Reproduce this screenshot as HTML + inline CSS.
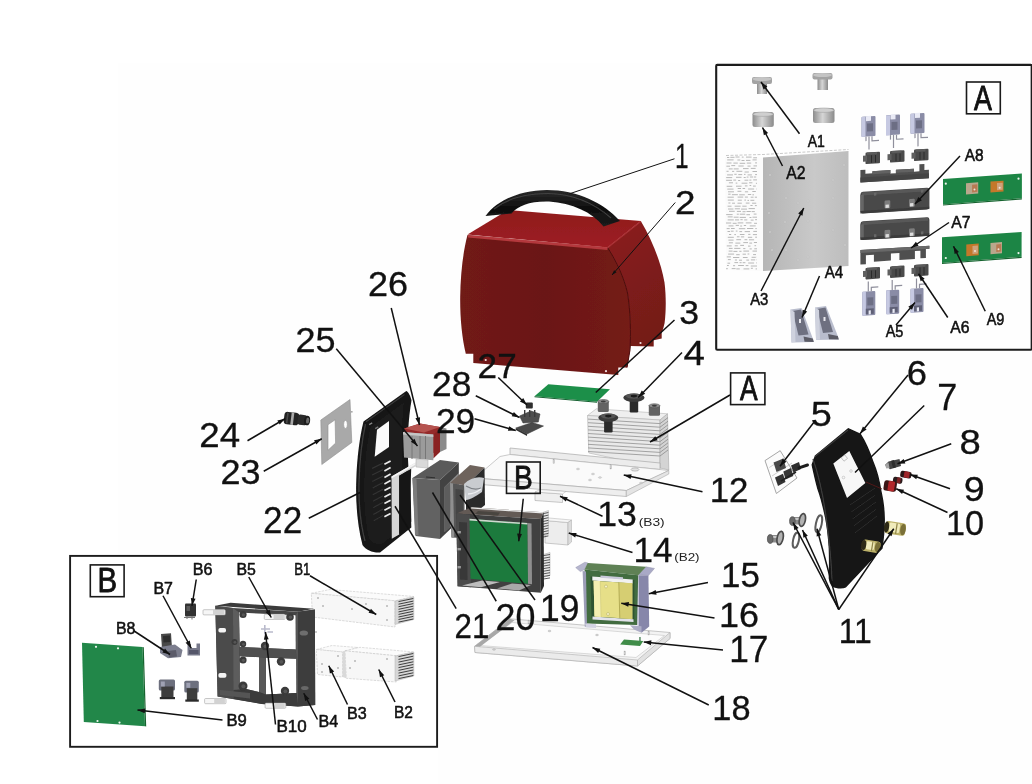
<!DOCTYPE html>
<html><head><meta charset="utf-8"><title>Exploded parts diagram</title>
<style>
html,body{margin:0;padding:0;background:#fff;}
body{width:1032px;height:784px;overflow:hidden;font-family:"Liberation Sans",sans-serif;}
svg{display:block;font-family:"Liberation Sans",sans-serif;}
</style></head><body>
<svg width="1032" height="784" viewBox="0 0 1032 784">
<g id="p_bg">
<defs>
<filter id="soft" x="-5%" y="-5%" width="110%" height="110%"><feGaussianBlur stdDeviation="0.45"/></filter>
<filter id="soft2" x="-5%" y="-5%" width="110%" height="110%"><feGaussianBlur stdDeviation="0.8"/></filter>
</defs>
<rect x="0" y="0" width="1032" height="784" fill="#ffffff"/>
<path d="M118,63 H1032 V784 H438 V555 H118 Z" fill="#fefefe"/>
</g>
<g id="p_cover">
<defs>
<linearGradient id="gFront" x1="0" y1="0" x2="1" y2="0"><stop offset="0" stop-color="#701a17"/><stop offset="0.5" stop-color="#6b1714"/><stop offset="1" stop-color="#741b18"/></linearGradient>
<linearGradient id="gSide" x1="0" y1="0" x2="0.25" y2="1"><stop offset="0" stop-color="#8c1e1e"/><stop offset="0.55" stop-color="#7c1b1a"/><stop offset="1" stop-color="#731a18"/></linearGradient>
<linearGradient id="gTop" x1="0" y1="0" x2="0" y2="1"><stop offset="0" stop-color="#8f1a1d"/><stop offset="1" stop-color="#9d1e22"/></linearGradient>
<linearGradient id="gHandle" x1="0" y1="0" x2="0" y2="1"><stop offset="0" stop-color="#2a2a2a"/><stop offset="0.5" stop-color="#0e0e0e"/><stop offset="1" stop-color="#1c1c1c"/></linearGradient>
</defs>
<g filter="url(#soft)">
<path d="M607.5,247.5 L640.8,221 C652,240 661,262 664.5,282.5 C666.3,297 666,312 664.6,323 L663.5,327.5 L661.7,333.3 L661.7,338.5 L653.7,340.2 L653.7,346.5 L630.5,346 L627,368 Z" fill="url(#gSide)"/>
<path d="M467.5,235 L607.5,247.5 C617,262 624,278 627.5,293 C630.5,312 631,333 630,350 L627,367.5 L618.3,367.5 L618.3,375 L473.3,363 L473.3,353.8 L465.8,353.8 C462,338 460,318 460.2,297 C460.5,274 463,252 467.5,235 Z" fill="url(#gFront)"/>
<path d="M607.5,247.5 C617,262 624,278 627.5,293 C630.5,312 631,333 630,350 L627,367.5" fill="none" stroke="#4e100e" stroke-width="1"/>
<polygon points="467.5,234.5 508,210 640.8,221 607.5,247.5" fill="url(#gTop)"/>
<path d="M468,236.2 L607.5,248.6" stroke="#bb3d41" stroke-width="2.6" fill="none" opacity="0.9"/>
<path d="M607.5,247.8 L640.8,221.5" stroke="#a93034" stroke-width="1.2" fill="none"/>
<circle cx="485.7" cy="360.0" r="1.1" fill="#f2dede"/>
<circle cx="606.0" cy="371.2" r="1.1" fill="#f2dede"/>
<circle cx="640.5" cy="343.0" r="1.1" fill="#f2dede"/>
<path d="M485.5,216 C497,200 520,190.5 547,190 C577,190 604,203 620,221 L603.5,226.5 C592,212 572,203 549,201.5 C530,201 518,205.5 511.5,213.5 Z" fill="url(#gHandle)"/>
<path d="M494,209 C508,198 527,193.5 548,193.5 C572,194 594,203 611,218" stroke="#4a4a4a" stroke-width="1.2" fill="none" opacity="0.8"/>
<polygon points="548.3,384.3 610,389.3 597,401.8 534.5,396.3" fill="#1f8f49"/>
<polygon points="534.5,396.3 597,401.8 597,402.8 534.5,397.3" fill="#14602f"/>
</g>
</g>
<g id="p_mid">
<g filter="url(#soft)">
<polygon points="587.50,415.50 596.30,408.80 667.50,413.80 660.00,420.00" fill="#efefef" stroke="#b5b5b5" stroke-width="0.6" stroke-linejoin="round" />
<polygon points="587.50,415.50 660.00,420.00 660.00,468.00 588.80,453.00" fill="#e9e9e9" stroke="#b0b0b0" stroke-width="0.6" stroke-linejoin="round" />
<polygon points="660.00,420.00 667.50,413.80 668.80,470.00 660.00,468.00" fill="#d4d4d4" stroke="#a8a8a8" stroke-width="0.6" stroke-linejoin="round" />
<line x1="588" y1="419.10" x2="660" y2="423.60" stroke="#9a9a9a" stroke-width="0.9"/>
<line x1="660" y1="423.60" x2="668" y2="417.60" stroke="#8c8c8c" stroke-width="0.8"/>
<line x1="588" y1="422.70" x2="660" y2="427.20" stroke="#9a9a9a" stroke-width="0.9"/>
<line x1="660" y1="427.20" x2="668" y2="421.20" stroke="#8c8c8c" stroke-width="0.8"/>
<line x1="588" y1="426.30" x2="660" y2="430.80" stroke="#9a9a9a" stroke-width="0.9"/>
<line x1="660" y1="430.80" x2="668" y2="424.80" stroke="#8c8c8c" stroke-width="0.8"/>
<line x1="588" y1="429.90" x2="660" y2="434.40" stroke="#9a9a9a" stroke-width="0.9"/>
<line x1="660" y1="434.40" x2="668" y2="428.40" stroke="#8c8c8c" stroke-width="0.8"/>
<line x1="588" y1="433.50" x2="660" y2="438.00" stroke="#9a9a9a" stroke-width="0.9"/>
<line x1="660" y1="438.00" x2="668" y2="432.00" stroke="#8c8c8c" stroke-width="0.8"/>
<line x1="588" y1="437.10" x2="660" y2="441.60" stroke="#9a9a9a" stroke-width="0.9"/>
<line x1="660" y1="441.60" x2="668" y2="435.60" stroke="#8c8c8c" stroke-width="0.8"/>
<line x1="588" y1="440.70" x2="660" y2="445.20" stroke="#9a9a9a" stroke-width="0.9"/>
<line x1="660" y1="445.20" x2="668" y2="439.20" stroke="#8c8c8c" stroke-width="0.8"/>
<line x1="588" y1="444.30" x2="660" y2="448.80" stroke="#9a9a9a" stroke-width="0.9"/>
<line x1="660" y1="448.80" x2="668" y2="442.80" stroke="#8c8c8c" stroke-width="0.8"/>
<line x1="588" y1="447.90" x2="660" y2="452.40" stroke="#9a9a9a" stroke-width="0.9"/>
<line x1="660" y1="452.40" x2="668" y2="446.40" stroke="#8c8c8c" stroke-width="0.8"/>
<line x1="588" y1="451.50" x2="660" y2="456.00" stroke="#9a9a9a" stroke-width="0.9"/>
<line x1="660" y1="456.00" x2="668" y2="450.00" stroke="#8c8c8c" stroke-width="0.8"/>
<rect x="597.8" y="401.0" width="11.0" height="10.9" rx="1.5" fill="#636363"/>
<ellipse cx="603.3" cy="401.5" rx="5.5" ry="2" fill="#8d8d8d" stroke="#4d4d4d" stroke-width="0.6"/>
<ellipse cx="603.3" cy="401.5" rx="2.5" ry="1" fill="#3d3d3d"/>
<rect x="648.8" y="405.3" width="11.2" height="10.5" rx="1.5" fill="#636363"/>
<ellipse cx="654.4" cy="405.8" rx="5.6" ry="2" fill="#8d8d8d" stroke="#4d4d4d" stroke-width="0.6"/>
<ellipse cx="654.4" cy="405.8" rx="2.5" ry="1" fill="#3d3d3d"/>
<rect x="629.7" y="399.5" width="8.5" height="13.0" rx="1.2" fill="#2b2b2b"/>
<ellipse cx="633.9" cy="397.7" rx="10.6" ry="4.2" fill="#3a3a3a"/>
<ellipse cx="633.9" cy="396.1" rx="8.1" ry="2.6" fill="#555"/>
<ellipse cx="633.9" cy="396.1" rx="3.2" ry="1.3" fill="#1a1a1a"/>
<rect x="604.1" y="419.5" width="8.5" height="13.0" rx="1.2" fill="#2b2b2b"/>
<ellipse cx="608.3" cy="417.7" rx="10.0" ry="4.2" fill="#3a3a3a"/>
<ellipse cx="608.3" cy="416.1" rx="7.5" ry="2.6" fill="#555"/>
<ellipse cx="608.3" cy="416.1" rx="3.2" ry="1.3" fill="#1a1a1a"/>
<polygon points="510.00,448.00 660.00,463.00 660.00,469.50 510.00,454.50" fill="#ececec" stroke="#a9a9a9" stroke-width="0.7" stroke-linejoin="round" />
<polygon points="500.00,456.50 510.00,454.50 660.00,469.50 668.80,470.50 626.30,490.50 475.00,478.00" fill="#fafafa" stroke="#b4b4b4" stroke-width="0.7" stroke-linejoin="round" />
<polygon points="475.00,478.00 626.30,490.50 626.30,496.50 475.00,484.00" fill="#eeeeee" stroke="#aaaaaa" stroke-width="0.7" stroke-linejoin="round" />
<polygon points="626.30,490.50 668.80,470.50 668.80,474.00 626.30,496.50" fill="#e4e4e4" stroke="#aaaaaa" stroke-width="0.6" stroke-linejoin="round" />
<ellipse cx="635" cy="469.5" rx="4" ry="1.6" fill="#e2e2e2" stroke="#9d9d9d" stroke-width="0.6"/>
<ellipse cx="578.0" cy="469.0" rx="1.6" ry="0.8" fill="#ddd" stroke="#aaa" stroke-width="0.4"/>
<ellipse cx="593.0" cy="474.0" rx="1.6" ry="0.8" fill="#ddd" stroke="#aaa" stroke-width="0.4"/>
<ellipse cx="600.0" cy="477.5" rx="1.6" ry="0.8" fill="#ddd" stroke="#aaa" stroke-width="0.4"/>
<ellipse cx="590.0" cy="480.0" rx="1.6" ry="0.8" fill="#ddd" stroke="#aaa" stroke-width="0.4"/>
<ellipse cx="641.0" cy="483.0" rx="1.6" ry="0.8" fill="#ddd" stroke="#aaa" stroke-width="0.4"/>
<rect x="553.0" y="459.0" width="1.6" height="4.5" fill="#cfcfcf" stroke="#aaa" stroke-width="0.3"/>
<rect x="610.0" y="464.5" width="1.6" height="4.5" fill="#cfcfcf" stroke="#aaa" stroke-width="0.3"/>
<polygon points="535.00,492.00 562.50,494.00 562.50,502.50 535.00,500.50" fill="#efefef" stroke="#a5a5a5" stroke-width="0.6" stroke-linejoin="round" />
<polygon points="535.00,492.00 540.00,489.50 566.00,491.50 562.50,494.00" fill="#f7f7f7" stroke="#b0b0b0" stroke-width="0.5" stroke-linejoin="round" />
<polygon points="545.00,520.50 568.00,522.50 568.00,545.00 545.00,543.00" fill="#ededed" stroke="#a8a8a8" stroke-width="0.6" stroke-linejoin="round" />
<polygon points="545.00,520.50 549.00,518.00 571.50,520.00 568.00,522.50" fill="#f6f6f6" stroke="#b0b0b0" stroke-width="0.5" stroke-linejoin="round" />
<polygon points="568.00,522.50 571.50,520.00 571.50,542.00 568.00,545.00" fill="#dcdcdc" stroke="#a8a8a8" stroke-width="0.5" stroke-linejoin="round" />
<rect x="525.8" y="402.5" width="7" height="6" rx="1" fill="#2e2e2e"/>
<polygon points="519.50,416.00 531.00,411.00 540.00,414.00 538.30,422.00 523.00,423.00" fill="#505050" stroke="#333" stroke-width="0.5" stroke-linejoin="round" />
<rect x="524.0" y="410" width="1.4" height="7" fill="#3a3a3a"/>
<rect x="529.0" y="410" width="1.4" height="7" fill="#3a3a3a"/>
<rect x="534.0" y="410" width="1.4" height="7" fill="#3a3a3a"/>
<polygon points="515.80,428.00 532.00,422.50 543.50,426.00 527.00,434.00" fill="#4a4a4a" stroke="#2c2c2c" stroke-width="0.5" stroke-linejoin="round" />
<polygon points="515.80,428.00 527.00,434.00 527.00,436.00 515.80,430.00" fill="#333" />
</g>
</g>
<g id="p_left">
<g filter="url(#soft)">
<g transform="rotate(7 297 419)">
<rect x="284" y="413" width="15" height="12.5" rx="3.5" fill="#242424"/>
<rect x="291" y="413" width="2.6" height="12.5" fill="#a9a9a9"/>
<rect x="286.5" y="414" width="1.5" height="10.5" fill="#4a4a4a"/>
<rect x="298" y="414.2" width="9" height="10.2" rx="2" fill="#2b2b2b"/>
<ellipse cx="307.2" cy="419.3" rx="3" ry="4.8" fill="#1b1b1b"/>
<ellipse cx="307.8" cy="419.3" rx="1.6" ry="3" fill="#6a6a6a"/>
</g>
<path fill-rule="evenodd" d="M320.8,420 L350,399.5 L351.8,442.5 L321.8,464.5 Z M328,424.7 L335.1,419.8 L335.6,443.1 L328,450.2 Z M343.6,424.4 a1.9,4 0 1,0 3.8,0 a1.9,4 0 1,0 -3.8,0 Z" fill="#a9a9a9" stroke="#8e8e8e" stroke-width="0.6"/>
<rect x="350" y="411" width="2.6" height="1.6" fill="#aaa"/>
<path d="M406.3,391 C408.5,392 410.5,396 411.5,400.5 C408,420 407,445 408.5,470 C409.5,492 411,510 411.3,527.5 L380,552.5 C373,553 366,550 362.5,545 C357,524 355.5,500 356.3,480 C357,458 359.5,438 363.5,421.5 Z" fill="#141414"/>
<path d="M365.5,424 C361.5,442 359.5,462 359,482 C358.5,503 360.5,524 365,541" stroke="#3c3c3c" stroke-width="1.4" fill="none"/>
<path d="M366,421.8 L404.5,394.5" stroke="#3a3a3a" stroke-width="1.2" fill="none"/>
<path d="M370.5,427 L404,402.5 C401.5,425 401.5,450 403,474 C404,494 405.5,510 406,524 L381.5,544.5 C373.5,545 369.5,541 368,535 C364,514 363.5,492 364.5,474 C365.3,456 367.5,440 370.5,427 Z" fill="#1d1d1d"/>
<polygon points="377.00,429.80 389.00,421.10 389.00,447.00 374.70,456.70" fill="#fbfbfb" />
<rect x="369" y="423.5" width="3.5" height="1.3" fill="#888" transform="rotate(-30 370 424)"/>
<rect x="375" y="427.5" width="3.5" height="1.3" fill="#777" transform="rotate(-30 376 428)"/>
<line x1="384.4" y1="464.3" x2="390.6" y2="461.0" stroke="#ececec" stroke-width="1.7"/>
<line x1="384.4" y1="470.9" x2="390.6" y2="467.6" stroke="#ececec" stroke-width="1.7"/>
<line x1="384.4" y1="477.4" x2="390.6" y2="474.1" stroke="#ececec" stroke-width="1.7"/>
<line x1="384.4" y1="483.9" x2="390.6" y2="480.6" stroke="#ececec" stroke-width="1.7"/>
<line x1="384.4" y1="490.5" x2="390.6" y2="487.2" stroke="#ececec" stroke-width="1.7"/>
<line x1="384.4" y1="497.1" x2="390.6" y2="493.8" stroke="#ececec" stroke-width="1.7"/>
<line x1="384.4" y1="503.6" x2="390.6" y2="500.3" stroke="#ececec" stroke-width="1.7"/>
<line x1="384.4" y1="510.2" x2="390.6" y2="506.9" stroke="#ececec" stroke-width="1.7"/>
<line x1="384.4" y1="516.7" x2="390.6" y2="513.4" stroke="#ececec" stroke-width="1.7"/>
<line x1="372.0" y1="468.5" x2="383.0" y2="463.0" stroke="#333" stroke-width="1.1"/>
<line x1="372.2" y1="475.1" x2="383.0" y2="469.6" stroke="#333" stroke-width="1.1"/>
<line x1="372.4" y1="481.6" x2="383.0" y2="476.1" stroke="#333" stroke-width="1.1"/>
<line x1="372.6" y1="488.1" x2="383.0" y2="482.6" stroke="#333" stroke-width="1.1"/>
<line x1="372.8" y1="494.7" x2="383.0" y2="489.2" stroke="#333" stroke-width="1.1"/>
<line x1="373.0" y1="501.2" x2="383.0" y2="495.8" stroke="#333" stroke-width="1.1"/>
<line x1="373.2" y1="507.8" x2="383.0" y2="502.3" stroke="#333" stroke-width="1.1"/>
<line x1="373.4" y1="514.4" x2="383.0" y2="508.9" stroke="#333" stroke-width="1.1"/>
<line x1="373.6" y1="520.9" x2="383.0" y2="515.4" stroke="#333" stroke-width="1.1"/>
<polygon points="391.50,476.40 415.70,462.40 415.70,466.20 399.20,475.80 399.20,534.50 391.80,538.80" fill="#d6d6d6" />
<polygon points="391.50,476.40 415.70,462.40 415.70,464.40 391.50,478.60" fill="#f4f4f4" />
<path d="M399.2,475.8 L411.2,468.8 C410.4,485 411,505 411.3,521.5 L399.2,534.5 Z" fill="#171717"/>
<polygon points="404.00,428.50 420.00,423.50 440.00,427.00 440.00,449.00 433.50,453.00 404.00,447.00" fill="#952a2a" />
<polygon points="404.00,428.50 420.00,423.50 440.00,427.00 424.00,432.50" fill="#b5524f" />
<polygon points="440.00,427.00 446.50,428.50 446.50,449.00 440.00,452.00" fill="#8a8a8a" />
<polygon points="433.30,434.00 440.00,430.00 440.00,452.00 433.30,458.50" fill="#8a2424" />
<polygon points="403.00,432.00 433.30,434.50 433.30,460.30 404.00,457.50" fill="#9b9b9b" />
<polygon points="403.00,432.00 433.30,434.50 433.30,437.00 403.00,434.50" fill="#c4c4c4" />
<line x1="412.0" y1="436" x2="412.0" y2="459" stroke="#777" stroke-width="1"/>
<line x1="420.0" y1="436" x2="420.0" y2="459" stroke="#777" stroke-width="1"/>
<line x1="425.5" y1="436" x2="425.5" y2="459" stroke="#777" stroke-width="1"/>
<polygon points="416.00,459.00 428.00,460.00 428.00,468.00 416.00,467.00" fill="#d9d9d9" stroke="#aaa" stroke-width="0.5" stroke-linejoin="round" />
<polygon points="412.50,478.00 440.00,460.00 458.80,462.50 440.00,480.00" fill="#5a5a5a" />
<polygon points="440.00,480.00 458.80,462.50 458.80,521.00 440.00,539.00" fill="#434343" />
<polygon points="444.50,487.00 458.80,473.00 458.80,519.00 444.50,532.00" fill="#8d8d8d" />
<polygon points="444.50,487.00 450.00,482.00 450.00,527.00 444.50,532.00" fill="#5d5d5d" />
<polygon points="412.50,478.00 440.00,480.00 440.00,539.00 415.50,536.00" fill="#626262" />
<polygon points="412.50,478.00 416.50,478.30 418.50,535.30 415.00,535.00" fill="#7b7b7b" />
<line x1="426" y1="477" x2="435" y2="477.8" stroke="#2f2f2f" stroke-width="1"/>
<polygon points="450.00,483.00 470.00,465.00 484.50,467.50 466.00,485.50" fill="#6e635c" />
<polygon points="450.00,483.00 464.50,485.30 464.50,538.00 451.50,537.50" fill="#565656" />
<polygon points="450.00,483.00 453.00,483.50 454.30,537.60 451.50,537.50" fill="#8f8f8f" />
<polygon points="455.50,489.00 463.00,490.00 463.00,520.00 456.00,519.30" fill="#444" />
<polygon points="466.00,485.50 484.50,467.50 485.00,505.00 466.00,520.00" fill="#2a2a2a" />
<path d="M464,484 C470,478 478,476 484,478 L482,492 C476,496 470,500 466,500 Z" fill="#c9ccd0"/>
<path d="M466,486 C471,489 476,490 481,488" stroke="#7d8186" stroke-width="1.2" fill="none"/>
<path d="M468,494 C472,494 477,492 481,489" stroke="#eef0f2" stroke-width="1.3" fill="none"/>
<polygon points="540.00,513.50 548.40,510.50 548.40,534.30 540.00,537.30" fill="#e8e8e8" stroke="#a0a0a0" stroke-width="0.5" stroke-linejoin="round" />
<line x1="543.0" y1="513.7" x2="548.4" y2="512.5" stroke="#4a4a4a" stroke-width="0.9"/>
<line x1="543.0" y1="516.3" x2="548.4" y2="515.1" stroke="#4a4a4a" stroke-width="0.9"/>
<line x1="543.0" y1="518.9" x2="548.4" y2="517.7" stroke="#4a4a4a" stroke-width="0.9"/>
<line x1="543.0" y1="521.5" x2="548.4" y2="520.3" stroke="#4a4a4a" stroke-width="0.9"/>
<line x1="543.0" y1="524.1" x2="548.4" y2="522.9" stroke="#4a4a4a" stroke-width="0.9"/>
<line x1="543.0" y1="526.7" x2="548.4" y2="525.5" stroke="#4a4a4a" stroke-width="0.9"/>
<line x1="543.0" y1="529.3" x2="548.4" y2="528.1" stroke="#4a4a4a" stroke-width="0.9"/>
<line x1="543.0" y1="531.9" x2="548.4" y2="530.7" stroke="#4a4a4a" stroke-width="0.9"/>
<line x1="543.0" y1="534.5" x2="548.4" y2="533.3" stroke="#4a4a4a" stroke-width="0.9"/>
<line x1="543.0" y1="537.1" x2="548.4" y2="535.9" stroke="#4a4a4a" stroke-width="0.9"/>
<polygon points="540.00,555.50 550.00,552.50 550.00,575.50 540.00,578.50" fill="#e8e8e8" stroke="#a0a0a0" stroke-width="0.5" stroke-linejoin="round" />
<line x1="543.0" y1="555.7" x2="550.0" y2="554.5" stroke="#4a4a4a" stroke-width="0.9"/>
<line x1="543.0" y1="558.3" x2="550.0" y2="557.1" stroke="#4a4a4a" stroke-width="0.9"/>
<line x1="543.0" y1="560.9" x2="550.0" y2="559.7" stroke="#4a4a4a" stroke-width="0.9"/>
<line x1="543.0" y1="563.5" x2="550.0" y2="562.3" stroke="#4a4a4a" stroke-width="0.9"/>
<line x1="543.0" y1="566.1" x2="550.0" y2="564.9" stroke="#4a4a4a" stroke-width="0.9"/>
<line x1="543.0" y1="568.7" x2="550.0" y2="567.5" stroke="#4a4a4a" stroke-width="0.9"/>
<line x1="543.0" y1="571.3" x2="550.0" y2="570.1" stroke="#4a4a4a" stroke-width="0.9"/>
<line x1="543.0" y1="573.9" x2="550.0" y2="572.7" stroke="#4a4a4a" stroke-width="0.9"/>
<line x1="543.0" y1="576.5" x2="550.0" y2="575.3" stroke="#4a4a4a" stroke-width="0.9"/>
<line x1="543.0" y1="579.1" x2="550.0" y2="577.9" stroke="#4a4a4a" stroke-width="0.9"/>
<polygon points="456.30,513.50 471.40,507.20 543.60,512.30 540.80,519.00" fill="#635a55" />
<polygon points="471.40,507.20 543.60,512.30 543.20,513.60 471.00,508.60" fill="#e9e9e9" />
<polygon points="478.00,511.00 500.00,512.50 498.00,515.50 475.00,514.00" fill="#4a4440" />
<polygon points="456.30,513.50 540.80,519.00 540.80,592.80 457.60,586.30" fill="#414141" />
<polygon points="540.80,519.00 543.60,512.30 544.00,586.00 540.80,592.80" fill="#2c2c2c" />
<polygon points="456.30,513.50 470.00,514.50 471.00,587.20 457.60,586.30" fill="#4b4b4b" />
<polygon points="459.00,522.00 467.00,522.60 467.50,580.00 460.00,579.40" fill="#383838" />
<rect x="457.5" y="531" width="3.4" height="2.4" fill="#9a9a9a"/>
<rect x="457.5" y="548" width="3.4" height="2.4" fill="#9a9a9a"/>
<rect x="457.5" y="566" width="3.4" height="2.4" fill="#9a9a9a"/>
<polygon points="469.50,518.80 527.50,523.00 528.00,583.80 470.50,578.80" fill="#1d7a3e" />
<polygon points="469.50,518.80 527.50,523.00 527.50,524.60 469.50,520.40" fill="#cfd8cf" />
<polygon points="527.50,523.00 531.50,523.40 532.00,584.20 528.00,583.80" fill="#8e8e8e" />
<polygon points="462.00,585.50 482.00,580.50 500.00,582.00 481.00,587.30" fill="#bdbdbd" />
<polygon points="497.00,588.50 512.00,583.50 531.00,585.00 519.00,590.50" fill="#a9a9a9" />
</g>
</g>
<g id="p_right">
<g filter="url(#soft)">
<polygon points="765.00,460.60 780.20,450.70 797.00,478.00 776.40,493.50" fill="#fbfbfb" stroke="#9c9c9c" stroke-width="0.9" stroke-linejoin="round" />
<path d="M769.3,467.5 L784,458 M772,476 L792,463" stroke="#b0b0b0" stroke-width="0.6" fill="none"/>
<polygon points="773.50,462.50 783.50,458.50 786.00,468.00 776.50,472.00" fill="#4a4a4a" />
<polygon points="775.00,477.50 783.00,473.80 785.50,482.00 778.00,486.00" fill="#333" />
<polygon points="783.30,471.50 791.00,468.00 793.30,476.00 785.50,479.50" fill="#363636" />
<polygon points="791.00,465.50 799.00,462.00 801.00,469.00 793.50,472.50" fill="#2e2e2e" />
<path d="M799,467.8 L807.5,465" stroke="#1c1c1c" stroke-width="3" stroke-linecap="round"/>
<path d="M781,481 L796,472" stroke="#222" stroke-width="1.6"/>
<path d="M848.2,428 L860.8,433.8 C866,442 870,451 873.4,461.3 C877.5,471 880,481 881.5,491.1 C883.5,500 884.8,509 884.9,518.7 C885,529 884,539 882.6,548.5 L845.9,587.5 C842,589.3 836,588.6 832.1,586.4 C830,584 829,581 828.7,578.3 C829,568 829,558 828.7,548.5 C828,538 827,528 825.2,518.7 C823,508 820.5,498 817.2,488.8 C815,480 813,472 811.5,464.7 L814.9,455.6 Z" fill="#121212"/>
<path d="M813,459 C819,476 823.5,497 826.5,520 C829.5,542 831.5,562 832,581" stroke="#3b3b3b" stroke-width="1.3" fill="none"/>
<path d="M815,456.5 L848,430" stroke="#3a3a3a" stroke-width="1.1" fill="none"/>
<polygon points="833.30,463.60 849.30,451.00 865.40,483.10 847.00,498.00" fill="#f7f7f7" />
<rect x="842" y="456" width="4.5" height="4.5" fill="none" stroke="#999" stroke-width="0.5" transform="rotate(-38 844 458)"/>
<circle cx="851" cy="471" r="1.3" fill="none" stroke="#aaa" stroke-width="0.5"/><circle cx="843.5" cy="477.5" r="1.3" fill="none" stroke="#aaa" stroke-width="0.5"/>
<line x1="850.0" y1="505.0" x2="875.0" y2="488.0" stroke="#2e2e2e" stroke-width="1"/>
<line x1="851.2" y1="512.0" x2="875.5" y2="495.0" stroke="#2e2e2e" stroke-width="1"/>
<line x1="852.4" y1="519.0" x2="876.0" y2="502.0" stroke="#2e2e2e" stroke-width="1"/>
<line x1="853.6" y1="526.0" x2="876.5" y2="509.0" stroke="#2e2e2e" stroke-width="1"/>
<line x1="854.8" y1="533.0" x2="877.0" y2="516.0" stroke="#2e2e2e" stroke-width="1"/>
<path d="M866,482 L882,489" stroke="#5b1a1a" stroke-width="0.9"/>
<g transform="rotate(9 895.2 528.4)">
<rect x="884.9" y="522.1" width="20.7" height="12.6" rx="3" fill="#bdb26a"/>
<rect x="888.9" y="523.3" width="10.7" height="9.2" rx="1.5" fill="#f0ebbb"/>
<rect x="895.8" y="523.1" width="1.2" height="10.6" fill="#8d8448"/>
<ellipse cx="903.1" cy="528.4" rx="2.8" ry="5.7" fill="#7a7038"/>
<ellipse cx="886.4" cy="528.4" rx="2.6" ry="5.5" fill="#2e2a18"/>
</g>
<g transform="rotate(9 871.1 546.2)">
<rect x="862.0" y="540.5" width="18.3" height="11.5" rx="3" fill="#bdb26a"/>
<rect x="866.0" y="541.7" width="8.3" height="8.1" rx="1.5" fill="#f0ebbb"/>
<rect x="871.6" y="541.5" width="1.2" height="9.5" fill="#8d8448"/>
<ellipse cx="877.8" cy="546.2" rx="2.8" ry="5.2" fill="#7a7038"/>
<ellipse cx="863.5" cy="546.2" rx="2.6" ry="5.0" fill="#2e2a18"/>
</g>
<polygon points="885.00,465.00 888.50,461.50 899.50,459.00 901.00,466.00 890.00,469.30" fill="#454545" />
<polygon points="885.00,465.00 888.50,462.50 889.50,468.00 886.30,468.60" fill="#a4a4a4" />
<rect x="892" y="460.5" width="3" height="7.5" fill="#2d2d2d" transform="rotate(-14 893 464)"/>
<rect x="900.3" y="471.2" width="11.2" height="6.6" rx="2" fill="#2b1415" transform="rotate(10 905.5 474.5)"/>
<rect x="904" y="471.4" width="5.5" height="6.2" rx="1" fill="#9e2529" transform="rotate(10 905.5 474.5)"/>
<rect x="893" y="477.2" width="9.5" height="6" rx="2" fill="#2a1c1c" transform="rotate(10 897.5 480)"/>
<rect x="897" y="477.3" width="3.6" height="5.6" fill="#7e2124" transform="rotate(10 897.5 480)"/>
<rect x="883.8" y="480.8" width="12.8" height="10.4" rx="2.5" fill="#3a1416" transform="rotate(9 890 486)"/>
<rect x="888" y="481" width="6.6" height="10" rx="1.5" fill="#b2272c" transform="rotate(9 890 486)"/>
<rect x="790.9" y="517.1" width="11.1" height="7.5" rx="2.5" fill="#8b8b8b"/>
<rect x="792.4" y="517.9" width="7.1" height="2.2" rx="1" fill="#c8c8c8"/>
<ellipse cx="802.3" cy="520.0" rx="3" ry="6.5" fill="#b2b2b2" stroke="#4c4c4c" stroke-width="1.7" transform="rotate(12 802.3 520.3)"/>
<ellipse cx="792.4" cy="521.1" rx="2.8" ry="4.4" fill="#6a6a6a" stroke="#4a4a4a" stroke-width="0.7"/>
<rect x="768.7" y="535.0" width="11.1" height="7.5" rx="2.5" fill="#8b8b8b"/>
<rect x="770.2" y="535.9" width="7.1" height="2.2" rx="1" fill="#c8c8c8"/>
<ellipse cx="780.1" cy="538.0" rx="3" ry="6.8" fill="#b2b2b2" stroke="#4c4c4c" stroke-width="1.7" transform="rotate(12 780.1 538.2)"/>
<ellipse cx="770.2" cy="539.0" rx="2.8" ry="4.4" fill="#6a6a6a" stroke="#4a4a4a" stroke-width="0.7"/>
<ellipse cx="818.8" cy="523.8" rx="2.9" ry="8.8" fill="none" stroke="#5c5c5c" stroke-width="2" transform="rotate(12 818.8 523.8)"/>
<ellipse cx="796.0" cy="540.2" rx="2.9" ry="7.7" fill="none" stroke="#5c5c5c" stroke-width="2" transform="rotate(12 796.0 540.2)"/>
</g>
</g>
<g id="p_bottom">
<g filter="url(#soft)">
<polygon points="510.00,618.80 670.00,632.50 670.00,638.50 637.50,666.00 475.00,652.50 474.50,646.30" fill="#f3f3f3" stroke="#b0b0b0" stroke-width="0.7" stroke-linejoin="round" />
<polygon points="512.00,622.50 664.50,635.50 636.00,657.50 480.00,645.50" fill="#fcfcfc" stroke="#c4c4c4" stroke-width="0.6" stroke-linejoin="round" />
<polygon points="474.50,646.30 637.50,660.00 637.50,666.00 475.00,652.50" fill="#ebebeb" stroke="#aeaeae" stroke-width="0.6" stroke-linejoin="round" />
<polygon points="637.50,660.00 670.00,632.50 670.00,638.50 637.50,666.00" fill="#e2e2e2" stroke="#aeaeae" stroke-width="0.6" stroke-linejoin="round" />
<polygon points="474.50,646.30 510.00,618.80 514.50,620.30 480.00,646.80" fill="#a8a8a8" />
<ellipse cx="549.5" cy="631.0" rx="1.5" ry="0.8" fill="#cfcfcf" stroke="#a9a9a9" stroke-width="0.4"/>
<ellipse cx="597.0" cy="635.0" rx="1.5" ry="0.8" fill="#cfcfcf" stroke="#a9a9a9" stroke-width="0.4"/>
<ellipse cx="494.0" cy="649.5" rx="1.5" ry="0.8" fill="#cfcfcf" stroke="#a9a9a9" stroke-width="0.4"/>
<rect x="624.0" y="651.0" width="1.5" height="4" fill="#d0d0d0" stroke="#aaa" stroke-width="0.3"/>
<rect x="648.0" y="631.0" width="1.5" height="4" fill="#d0d0d0" stroke="#aaa" stroke-width="0.3"/>
<rect x="528.0" y="620.0" width="1.5" height="4" fill="#d0d0d0" stroke="#aaa" stroke-width="0.3"/>
<polygon points="624.00,639.50 643.30,641.00 640.00,645.90 620.10,644.50" fill="#3f8c48" />
<rect x="639.3" y="637" width="1.3" height="4" fill="#3b7a4a"/>
<polygon points="575.70,567.60 584.90,562.20 588.00,563.00 584.60,569.60 580.30,571.60" fill="#b6b6ce" stroke="#8c8ca6" stroke-width="0.4" stroke-linejoin="round" />
<polygon points="638.30,574.80 646.10,566.80 654.50,568.40 648.40,575.60" fill="#a9a9c6" stroke="#8585a0" stroke-width="0.4" stroke-linejoin="round" />
<polygon points="587.70,563.00 646.10,566.80 638.20,575.30 584.60,569.60" fill="#5e8155" />
<polygon points="638.20,575.30 648.40,575.60 649.20,626.50 641.50,632.70 638.20,625.00" fill="#8787aa" />
<polygon points="636.60,575.10 639.00,575.40 639.00,626.00 636.60,625.00" fill="#c6c6d8" />
<polygon points="584.60,569.60 638.20,575.30 637.00,625.00 586.40,623.50" fill="#426c40" />
<polygon points="582.60,571.00 586.00,571.40 587.00,626.50 584.80,626.80" fill="#9c9db7" />
<polygon points="590.50,576.50 634.30,580.00 634.30,620.50 591.50,618.00" fill="#2f5331" />
<polygon points="585.00,623.50 596.00,624.30 596.00,628.00 586.30,627.50" fill="#d3d3e2" />
<polygon points="630.00,625.20 641.50,626.20 641.50,632.70 634.00,629.50" fill="#adadc6" />
<polygon points="592.30,576.60 632.70,579.60 632.70,583.40 592.30,580.60" fill="#f1f1f1" />
<polygon points="600.50,575.60 623.00,577.20 623.00,579.40 600.50,577.80" fill="#c9c9da" />
<polygon points="592.50,616.60 633.50,619.20 633.50,622.00 592.50,619.50" fill="#e2e2ea" />
<polygon points="593.60,580.70 632.30,583.20 632.30,618.90 594.50,616.60" fill="#e6df88" />
<polygon points="593.60,580.70 600.00,581.10 601.00,617.00 594.50,616.60" fill="#f4efb2" />
<polygon points="619.00,582.40 632.30,583.20 632.30,618.90 620.00,618.20" fill="#d6ce72" />
<line x1="618.8" y1="582.3" x2="619.8" y2="618.1" stroke="#aea650" stroke-width="0.9"/>
<line x1="600.2" y1="581.2" x2="601.1" y2="617" stroke="#cfc97c" stroke-width="0.6"/>
<circle cx="606" cy="586.5" r="1.5" fill="#f5f2c5" stroke="#b1a960" stroke-width="0.5"/><circle cx="608" cy="614" r="1.5" fill="#f5f2c5" stroke="#b1a960" stroke-width="0.5"/>
</g>
</g>
<g id="p_insetA">
<defs>
<linearGradient id="gCyl" x1="0" y1="0" x2="1" y2="0"><stop offset="0" stop-color="#8c8c8c"/><stop offset="0.45" stop-color="#d6d6d6"/><stop offset="1" stop-color="#8a8a8a"/></linearGradient>
<linearGradient id="gBlk" x1="0" y1="0" x2="1" y2="0"><stop offset="0" stop-color="#b5b5b5"/><stop offset="0.6" stop-color="#c9c9c9"/><stop offset="1" stop-color="#bdbdbd"/></linearGradient>
</defs>
<g filter="url(#soft)">
<rect x="757.0" y="83.0" width="10.0" height="11.0" fill="url(#gCyl)"/>
<rect x="752.0" y="77.0" width="20.0" height="7.0" rx="2" fill="#a3a3a3"/>
<ellipse cx="762.0" cy="79.0" rx="9.5" ry="2" fill="#c4c4c4"/>
<rect x="817.5" y="78.5" width="10.5" height="11.5" fill="url(#gCyl)"/>
<rect x="812.5" y="73.0" width="20.0" height="6.5" rx="2" fill="#a3a3a3"/>
<ellipse cx="822.5" cy="75.0" rx="9.5" ry="2" fill="#c4c4c4"/>
<rect x="752.5" y="112.0" width="21.3" height="15.0" rx="2.5" fill="url(#gCyl)"/>
<ellipse cx="763.1" cy="114.2" rx="10.2" ry="2.2" fill="#cfcfcf" stroke="#9a9a9a" stroke-width="0.5"/>
<rect x="813.0" y="108.0" width="21.5" height="15.0" rx="2.5" fill="url(#gCyl)"/>
<ellipse cx="823.8" cy="110.2" rx="10.3" ry="2.2" fill="#cfcfcf" stroke="#9a9a9a" stroke-width="0.5"/>
<polygon points="725.00,156.50 763.00,157.50 763.00,271.00 726.00,270.00" fill="#fbfbfb" />
<path d="M727.0,157.5 h2.3 M730.3,157.3 h4.2 M735.5,157.0 h4.0 M741.8,157.1 h1.8 M746.0,157.1 h5.6 M753.2,157.8 h3.8 M727.2,159.9 h6.4 M737.4,160.0 h2.9 M741.5,160.5 h3.0 M746.0,160.4 h4.4 M752.5,159.9 h4.2 M726.6,163.0 h4.9 M733.4,163.1 h4.4 M739.7,163.3 h5.5 M746.8,163.1 h4.4 M755.1,162.9 h1.9 M726.4,166.2 h3.6 M731.3,165.6 h3.9 M738.4,166.0 h5.3 M747.5,166.1 h3.1 M753.5,165.9 h3.5 M728.8,168.9 h3.9 M733.7,168.9 h5.0 M743.0,168.6 h5.6 M750.8,168.4 h4.8 M726.5,171.3 h2.1 M732.1,171.4 h2.1 M736.4,171.3 h5.9 M744.6,172.0 h4.2 M752.5,171.5 h4.5 M727.1,174.9 h5.9 M734.3,174.3 h2.4 M738.3,174.6 h3.9 M744.0,174.4 h1.5 M747.6,174.9 h4.3 M755.1,174.6 h1.9 M726.2,177.6 h6.0 M736.0,177.3 h5.5 M743.7,177.5 h2.0 M746.7,177.1 h1.8 M749.9,177.0 h3.2 M753.9,177.0 h2.3 M726.1,180.3 h5.9 M733.3,180.1 h2.8 M738.1,180.5 h2.1 M744.5,180.2 h3.8 M749.4,180.1 h2.0 M753.2,179.9 h3.8 M728.9,182.8 h4.1 M735.7,183.1 h1.6 M741.6,183.2 h5.8 M749.1,182.8 h3.3 M755.9,183.3 h1.1 M726.7,186.3 h5.6 M736.0,186.2 h5.5 M744.9,185.9 h2.6 M749.6,185.5 h1.6 M753.0,186.1 h2.8 M727.3,189.1 h6.2 M737.7,188.5 h3.3 M742.6,188.5 h2.5 M748.1,189.0 h6.0 M756.5,189.0 h0.5 M728.0,191.8 h6.0 M737.5,191.3 h3.9 M744.9,191.8 h3.2 M752.3,191.5 h3.5 M728.2,194.2 h2.4 M731.9,194.7 h6.0 M739.2,194.8 h5.6 M747.9,194.5 h3.3 M752.4,194.8 h1.6 M727.6,197.2 h6.2 M737.6,197.1 h5.6 M744.9,197.1 h3.0 M750.7,197.2 h2.8 M754.8,197.2 h2.2 M727.8,200.1 h6.0 M737.8,200.2 h4.0 M744.4,200.1 h1.6 M747.5,200.4 h1.5 M750.4,200.3 h3.9 M757.0,200.2 h0.0 M728.4,203.0 h2.0 M732.1,203.2 h2.9 M737.5,203.2 h4.3 M745.8,203.1 h3.7 M752.1,203.2 h4.1 M727.6,206.2 h3.9 M734.7,206.2 h5.9 M742.3,206.2 h4.3 M750.4,205.5 h2.2 M754.9,205.6 h1.9 M728.0,209.0 h5.4 M734.8,208.8 h5.1 M741.1,209.1 h5.9 M748.6,208.6 h6.3 M729.0,211.3 h5.7 M736.9,211.4 h4.1 M742.5,211.7 h3.1 M746.5,211.5 h4.3 M751.6,211.6 h3.2 M726.2,214.6 h6.4 M736.8,214.2 h2.0 M739.8,214.2 h5.4 M746.4,214.7 h3.6 M753.7,214.1 h2.8 M727.7,216.9 h5.0 M733.7,217.2 h4.9 M739.7,217.4 h6.2 M749.5,217.5 h1.9 M752.5,217.2 h4.5 M727.7,219.9 h6.1 M735.0,219.9 h4.1 M740.4,219.7 h2.3 M744.2,219.9 h3.1 M750.7,220.1 h2.9 M755.1,219.7 h1.9 M726.0,223.0 h5.2 M732.7,223.3 h3.9 M737.7,222.9 h5.6 M745.8,222.9 h5.7 M754.1,223.3 h2.9 M728.5,225.9 h5.0 M735.7,225.4 h3.2 M740.2,226.0 h1.9 M743.8,225.5 h2.3 M749.8,225.9 h5.9 M726.7,228.6 h3.0 M731.0,228.5 h3.7 M738.9,228.7 h6.4 M747.0,228.5 h6.3 M755.3,228.6 h1.5 M727.5,231.5 h2.5 M730.8,231.2 h2.8 M735.8,231.1 h1.7 M739.4,231.6 h2.7 M744.7,231.6 h5.3 M753.3,231.4 h3.7 M729.0,234.5 h2.2 M734.3,234.6 h1.7 M739.9,234.5 h4.6 M748.2,234.4 h2.2 M752.9,234.6 h4.1 M727.8,237.3 h6.0 M736.9,236.8 h2.6 M740.9,236.9 h3.3 M747.9,237.3 h4.3 M755.2,237.2 h1.8 M728.4,240.1 h5.2 M736.3,239.7 h4.8 M744.5,239.7 h2.8 M749.0,239.8 h5.1 M728.9,242.8 h4.0 M735.4,243.1 h4.9 M743.3,242.6 h4.7 M749.3,243.1 h2.8 M753.9,242.5 h3.1 M726.8,245.9 h4.9 M734.8,245.8 h3.0 M740.2,245.4 h3.8 M748.0,246.1 h2.5 M754.5,245.7 h1.6 M728.9,248.4 h3.7 M734.2,248.4 h6.2 M743.2,248.6 h2.2 M749.6,248.9 h2.2 M754.3,248.8 h2.7 M728.7,251.1 h3.9 M733.4,251.4 h4.0 M739.3,251.3 h2.2 M743.4,251.1 h5.7 M752.5,251.1 h4.5 M728.1,254.1 h6.0 M736.2,254.7 h3.5 M742.6,254.2 h3.3 M747.6,254.0 h1.7 M753.1,254.6 h2.9 M726.8,256.9 h4.1 M733.0,257.5 h6.3 M742.9,257.5 h4.7 M751.6,257.3 h4.2 M756.8,257.1 h0.2 M727.9,259.6 h2.9 M734.9,260.0 h2.1 M739.0,260.2 h3.0 M746.3,260.1 h2.8 M750.9,259.9 h4.3 M756.6,259.8 h0.4 M727.5,263.2 h2.6 M734.4,262.6 h3.7 M739.6,262.7 h2.0 M742.7,262.7 h2.7 M748.2,263.0 h5.9 M756.3,262.9 h0.7 M727.0,265.5 h1.8 M733.0,265.7 h2.1 M738.1,265.5 h5.8 M745.7,265.6 h2.7 M750.8,266.0 h6.2 M726.1,268.7 h1.7 M731.7,268.6 h3.9 M736.3,268.9 h3.5 M743.5,268.9 h5.8 M750.9,268.3 h2.0 M755.6,268.9 h1.4" stroke="#b0b0b0" stroke-width="0.9" fill="none"/>
<path d="M726,155.5 L763,154.5 L848.5,149.5" stroke="#c9c9c9" stroke-width="1" stroke-dasharray="3 1.5" fill="none"/>
<polygon points="763.00,157.50 848.50,151.00 848.50,266.00 763.00,271.00" fill="url(#gBlk)" />
<circle cx="770.0" cy="175.0" r="0.9" fill="#dcdcdc" stroke="#a6a6a6" stroke-width="0.3"/>
<circle cx="786.0" cy="198.0" r="0.9" fill="#dcdcdc" stroke="#a6a6a6" stroke-width="0.3"/>
<circle cx="798.0" cy="203.0" r="0.9" fill="#dcdcdc" stroke="#a6a6a6" stroke-width="0.3"/>
<circle cx="808.0" cy="201.0" r="0.9" fill="#dcdcdc" stroke="#a6a6a6" stroke-width="0.3"/>
<circle cx="833.0" cy="198.0" r="0.9" fill="#dcdcdc" stroke="#a6a6a6" stroke-width="0.3"/>
<circle cx="769.0" cy="213.0" r="0.9" fill="#dcdcdc" stroke="#a6a6a6" stroke-width="0.3"/>
<circle cx="785.0" cy="222.0" r="0.9" fill="#dcdcdc" stroke="#a6a6a6" stroke-width="0.3"/>
<circle cx="808.0" cy="221.0" r="0.9" fill="#dcdcdc" stroke="#a6a6a6" stroke-width="0.3"/>
<circle cx="820.0" cy="222.0" r="0.9" fill="#dcdcdc" stroke="#a6a6a6" stroke-width="0.3"/>
<circle cx="833.0" cy="230.0" r="0.9" fill="#dcdcdc" stroke="#a6a6a6" stroke-width="0.3"/>
<circle cx="772.0" cy="250.0" r="0.9" fill="#dcdcdc" stroke="#a6a6a6" stroke-width="0.3"/>
<circle cx="808.0" cy="257.0" r="0.9" fill="#dcdcdc" stroke="#a6a6a6" stroke-width="0.3"/>
<circle cx="844.0" cy="165.0" r="0.9" fill="#dcdcdc" stroke="#a6a6a6" stroke-width="0.3"/>
<circle cx="845.0" cy="245.0" r="0.9" fill="#dcdcdc" stroke="#a6a6a6" stroke-width="0.3"/>
<circle cx="798.0" cy="260.0" r="0.9" fill="#dcdcdc" stroke="#a6a6a6" stroke-width="0.3"/>
<circle cx="833.0" cy="180.0" r="0.9" fill="#dcdcdc" stroke="#a6a6a6" stroke-width="0.3"/>
<circle cx="770.0" cy="232.0" r="0.9" fill="#dcdcdc" stroke="#a6a6a6" stroke-width="0.3"/>
<circle cx="786.0" cy="250.0" r="0.9" fill="#dcdcdc" stroke="#a6a6a6" stroke-width="0.3"/>
<g transform="translate(860,0) skewY(-3.55) translate(-860,0)">
<rect x="861.5" y="117" width="14" height="20" rx="1" fill="#8a8ca6"/>
<rect x="861.5" y="117" width="4" height="20" fill="#c6c9e2"/>
<rect x="866.0" y="116.5" width="5" height="5" fill="#e9eaf5"/>
<rect x="867.0" y="124" width="6" height="8" fill="#6c6e84"/>
<path d="M866.0,137 v4.5 M869.0,137 v13 M872.0,137 v4.5 h7" stroke="#8f8f9c" stroke-width="1.2" fill="none"/>
<rect x="886.0" y="117" width="14" height="20" rx="1" fill="#8a8ca6"/>
<rect x="886.0" y="117" width="4" height="20" fill="#c6c9e2"/>
<rect x="890.5" y="116.5" width="5" height="5" fill="#e9eaf5"/>
<rect x="891.5" y="124" width="6" height="8" fill="#6c6e84"/>
<path d="M890.5,137 v4.5 M893.5,137 v13 M896.5,137 v4.5 h7" stroke="#8f8f9c" stroke-width="1.2" fill="none"/>
<rect x="910.5" y="117" width="14" height="20" rx="1" fill="#8a8ca6"/>
<rect x="910.5" y="117" width="4" height="20" fill="#c6c9e2"/>
<rect x="915.0" y="116.5" width="5" height="5" fill="#e9eaf5"/>
<rect x="916.0" y="124" width="6" height="8" fill="#6c6e84"/>
<path d="M915.0,137 v4.5 M918.0,137 v13 M921.0,137 v4.5 h7" stroke="#8f8f9c" stroke-width="1.2" fill="none"/>
<rect x="862.3" y="292" width="13" height="24" rx="1" fill="#8a8ca6"/>
<rect x="862.3" y="292" width="3.6" height="24" fill="#c6c9e2"/>
<rect x="867.3" y="298" width="6" height="8" fill="#6c6e84"/>
<rect x="865.8" y="309" width="8" height="5.5" fill="#5f6176"/>
<rect x="868.6" y="311" width="2.2" height="4" fill="#e9eaf5"/>
<path d="M868.3,292 v-10 M871.3,292 v-4 h7" stroke="#8f8f9c" stroke-width="1.2" fill="none"/>
<rect x="886.2" y="292" width="13" height="24" rx="1" fill="#8a8ca6"/>
<rect x="886.2" y="292" width="3.6" height="24" fill="#c6c9e2"/>
<rect x="891.2" y="298" width="6" height="8" fill="#6c6e84"/>
<rect x="889.7" y="309" width="8" height="5.5" fill="#5f6176"/>
<rect x="892.5" y="311" width="2.2" height="4" fill="#e9eaf5"/>
<path d="M892.2,292 v-10 M895.2,292 v-4 h7" stroke="#8f8f9c" stroke-width="1.2" fill="none"/>
<rect x="910.5" y="292" width="13" height="24" rx="1" fill="#8a8ca6"/>
<rect x="910.5" y="292" width="3.6" height="24" fill="#c6c9e2"/>
<rect x="915.5" y="298" width="6" height="8" fill="#6c6e84"/>
<rect x="914.0" y="309" width="8" height="5.5" fill="#5f6176"/>
<rect x="916.8" y="311" width="2.2" height="4" fill="#e9eaf5"/>
<path d="M916.5,292 v-10 M919.5,292 v-4 h7" stroke="#8f8f9c" stroke-width="1.2" fill="none"/>
<rect x="865.5" y="153.0" width="14.5" height="11.5" rx="1" fill="#4b4b4b"/>
<rect x="863.0" y="156.0" width="4" height="6" fill="#5f5f5f"/>
<rect x="867.0" y="153.0" width="10" height="2.3" fill="#5c5c5c"/>
<path d="M871.5,156.0 v7.5 M875.5,156.0 v7.5" stroke="#2b2b2b" stroke-width="1"/>
<rect x="890.0" y="153.0" width="14.5" height="11.5" rx="1" fill="#4b4b4b"/>
<rect x="887.5" y="156.0" width="4" height="6" fill="#5f5f5f"/>
<rect x="891.5" y="153.0" width="10" height="2.3" fill="#5c5c5c"/>
<path d="M896.0,156.0 v7.5 M900.0,156.0 v7.5" stroke="#2b2b2b" stroke-width="1"/>
<rect x="914.0" y="153.0" width="14.5" height="11.5" rx="1" fill="#4b4b4b"/>
<rect x="911.5" y="156.0" width="4" height="6" fill="#5f5f5f"/>
<rect x="915.5" y="153.0" width="10" height="2.3" fill="#5c5c5c"/>
<path d="M920.0,156.0 v7.5 M924.0,156.0 v7.5" stroke="#2b2b2b" stroke-width="1"/>
<rect x="865.5" y="268.3" width="14.5" height="11.5" rx="1" fill="#4b4b4b"/>
<rect x="863.0" y="271.3" width="4" height="6" fill="#5f5f5f"/>
<rect x="867.0" y="268.3" width="10" height="2.3" fill="#5c5c5c"/>
<path d="M871.5,271.3 v7.5 M875.5,271.3 v7.5" stroke="#2b2b2b" stroke-width="1"/>
<rect x="890.0" y="268.3" width="14.5" height="11.5" rx="1" fill="#4b4b4b"/>
<rect x="887.5" y="271.3" width="4" height="6" fill="#5f5f5f"/>
<rect x="891.5" y="268.3" width="10" height="2.3" fill="#5c5c5c"/>
<path d="M896.0,271.3 v7.5 M900.0,271.3 v7.5" stroke="#2b2b2b" stroke-width="1"/>
<rect x="914.0" y="268.3" width="14.5" height="11.5" rx="1" fill="#4b4b4b"/>
<rect x="911.5" y="271.3" width="4" height="6" fill="#5f5f5f"/>
<rect x="915.5" y="268.3" width="10" height="2.3" fill="#5c5c5c"/>
<path d="M920.0,271.3 v7.5 M924.0,271.3 v7.5" stroke="#2b2b2b" stroke-width="1"/>
<path d="M860.4,170 h5 v4 h7 v-2 h18 v3.5 h5.5 v-3.5 h18 v3 h5.5 v-7 h5 v6 h4.5 v8.5 h-68.5 Z" fill="#505050"/>
<path d="M872.4,172 h18 v3 h-18 Z M895.9,172 h18 v3 h-18 Z" fill="#626262"/>
<path d="M860.4,177.5 h68.5 v5 h-68.5 Z" fill="#454545"/>
<rect x="860.4" y="192.0" width="69" height="21.6" rx="2.5" fill="#484848"/>
<rect x="862" y="192.5" width="66" height="3" fill="#595959"/>
<rect x="860.4" y="195.0" width="3.4" height="16.6" fill="#666"/>
<rect x="860.4" y="211.0" width="69" height="2.4" fill="#3a3a3a"/>
<rect x="884.5" y="202.0" width="5.8" height="8" rx="1.2" fill="#7d7d7d"/>
<rect x="885.5" y="206.3" width="3.4" height="3.2" fill="#dedede"/>
<rect x="909.0" y="202.0" width="5.8" height="8" rx="1.2" fill="#7d7d7d"/>
<rect x="910.0" y="206.3" width="3.4" height="3.2" fill="#dedede"/>
<rect x="874.0" y="193.5" width="2.4" height="3" fill="#686868"/>
<rect x="921.0" y="193.5" width="2.4" height="3" fill="#686868"/>
<rect x="860.4" y="221.5" width="69" height="18.7" rx="2.5" fill="#484848"/>
<rect x="862" y="222.0" width="66" height="3" fill="#595959"/>
<rect x="860.4" y="224.5" width="3.4" height="13.7" fill="#666"/>
<rect x="860.4" y="237.6" width="69" height="2.4" fill="#3a3a3a"/>
<rect x="884.5" y="231.5" width="5.8" height="8" rx="1.2" fill="#7d7d7d"/>
<rect x="885.5" y="235.8" width="3.4" height="3.2" fill="#dedede"/>
<rect x="909.0" y="231.5" width="5.8" height="8" rx="1.2" fill="#7d7d7d"/>
<rect x="910.0" y="235.8" width="3.4" height="3.2" fill="#dedede"/>
<rect x="874.0" y="235.2" width="2.4" height="3" fill="#686868"/>
<rect x="921.0" y="235.2" width="2.4" height="3" fill="#686868"/>
<path d="M860.4,250 h69 v3 h-3.5 v9 h-5.5 v-7.5 h-5.5 v8 h-15.5 v-7 h-8.5 v7 h-17 v-7 h-8 v9 h-5.5 Z" fill="#505050"/>
<path d="M860.4,250 h69 v3 h-69 Z" fill="#676767"/>
</g>
<polygon points="943.00,179.10 1021.90,173.50 1021.90,198.30 943.00,204.40" fill="#1e8544" />
<polygon points="943.00,204.40 1021.90,198.30 1021.90,199.50 943.00,205.60" fill="#15632f" />
<polygon points="966.00,183.20 978.20,182.30 978.20,193.60 966.00,194.50" fill="#b9a78c" />
<polygon points="972.10,184.70 977.40,184.30 977.40,191.80 972.10,192.40" fill="#b87a52" />
<circle cx="974.5" cy="189.5" r="1" fill="#f1e4d8"/>
<polygon points="990.50,181.60 1003.50,180.70 1003.50,191.50 990.50,192.40" fill="#c4782c" />
<polygon points="997.00,183.10 1002.70,182.70 1002.70,189.70 997.00,190.30" fill="#cfa27a" />
<circle cx="999.6" cy="187.7" r="1" fill="#f1e4d8"/>
<circle cx="945.8" cy="183.7" r="1.1" fill="#eef5ee"/>
<circle cx="1018.5" cy="178.7" r="1.1" fill="#eef5ee"/>
<polygon points="942.00,237.30 1021.60,232.00 1021.60,256.80 942.00,262.90" fill="#1e8544" />
<polygon points="942.00,262.90 1021.60,256.80 1021.60,258.00 942.00,264.10" fill="#15632f" />
<polygon points="966.30,244.40 978.70,243.50 978.70,255.30 966.30,256.20" fill="#c4782c" />
<polygon points="972.50,245.90 977.90,245.50 977.90,253.50 972.50,254.10" fill="#cfa27a" />
<circle cx="975.0" cy="251.0" r="1" fill="#f1e4d8"/>
<polygon points="990.50,242.90 1002.00,242.00 1002.00,253.30 990.50,254.20" fill="#b9a78c" />
<polygon points="996.25,244.40 1001.20,244.00 1001.20,251.50 996.25,252.10" fill="#b87a52" />
<circle cx="998.5" cy="249.2" r="1" fill="#f1e4d8"/>
<circle cx="945.8" cy="258.0" r="1.1" fill="#eef5ee"/>
<circle cx="1018.5" cy="253.1" r="1.1" fill="#eef5ee"/>
<polygon points="790.50,309.50 801.50,308.00 812.80,338.50 813.80,342.00 791.50,342.50" fill="#b9bdcd" />
<polygon points="792.50,311.00 801.00,309.50 808.50,334.50 798.50,335.50" fill="#6e7080" />
<polygon points="790.50,309.50 794.50,312.00 795.50,342.00 791.50,342.50" fill="#cfd2de" />
<polygon points="803.50,336.50 812.80,338.50 813.80,342.00 804.50,341.70" fill="#5c5c66" />
<rect x="799.0" y="319.0" width="2" height="4" fill="#e8e8ee"/>
<polygon points="815.00,307.50 826.00,306.00 837.80,336.00 838.80,339.50 816.00,340.00" fill="#b9bdcd" />
<polygon points="817.00,309.00 825.50,307.50 833.00,332.00 823.00,333.00" fill="#6e7080" />
<polygon points="815.00,307.50 819.00,310.00 820.00,339.50 816.00,340.00" fill="#cfd2de" />
<polygon points="828.00,334.00 837.80,336.00 838.80,339.50 829.00,339.20" fill="#5c5c66" />
<rect x="823.5" y="317.0" width="2" height="4" fill="#e8e8ee"/>
</g>
</g>
<g id="p_insetB">
<g filter="url(#soft)">
<polygon points="82.00,642.80 142.50,647.00 145.00,726.30 83.80,722.00" fill="#22874a" />
<polygon points="142.50,647.00 143.80,647.20 146.20,726.60 145.00,726.30" fill="#15632f" />
<circle cx="96.0" cy="646.8" r="1.1" fill="#f0f6f0"/>
<circle cx="118.0" cy="648.3" r="1.1" fill="#f0f6f0"/>
<circle cx="97.5" cy="721.0" r="1.1" fill="#f0f6f0"/>
<circle cx="119.5" cy="722.6" r="1.1" fill="#f0f6f0"/>
<rect x="185" y="603.5" width="11" height="13" rx="1" fill="#333"/>
<rect x="186.5" y="606" width="3.5" height="5" fill="#5a5a5a"/>
<path d="M184,617.5 h11 M187,616 v3 M192,616 v3.5" stroke="#777" stroke-width="1"/>
<polygon points="161.00,634.00 171.00,633.30 172.00,648.00 162.00,649.00" fill="#4a4a4a" />
<polygon points="163.00,636.00 170.00,635.50 170.50,642.00 163.50,642.50" fill="#2e2e2e" />
<polygon points="160.00,647.00 175.00,644.50 182.50,650.00 181.00,657.00 168.00,658.30 160.00,653.00" fill="#7c7e8e" />
<polygon points="168.00,651.00 176.00,650.00 177.00,656.50 169.00,657.50" fill="#5b5c6b" />
<path d="M187.5,644 h3.5 v4 h5.5 v-4.5 h3.5 v12 h-12.5 Z" fill="#77798a"/>
<rect x="189" y="650" width="9.5" height="4" fill="#55566a"/>
<rect x="158.8" y="679.5" width="16.2" height="11.0" rx="1.5" fill="#6d6f7e"/>
<rect x="161.3" y="686.5" width="12.2" height="12.0" fill="#3c3c3c"/>
<rect x="159.8" y="697.0" width="15.2" height="2.2" fill="#2a2a2a"/>
<rect x="160.8" y="681.5" width="4" height="5" fill="#9fa1b3"/>
<rect x="184.3" y="680.8" width="14.5" height="11.7" rx="1.5" fill="#6d6f7e"/>
<rect x="186.8" y="688.2" width="10.5" height="12.8" fill="#3c3c3c"/>
<rect x="185.3" y="699.5" width="13.5" height="2.2" fill="#2a2a2a"/>
<rect x="186.3" y="682.8" width="4" height="5" fill="#9fa1b3"/>
<polygon points="311.30,593.30 330.00,589.50 413.80,596.50 395.00,600.80" fill="#fbfbfb" stroke="#c8c8c8" stroke-width="0.6" stroke-linejoin="round" stroke-dasharray="2.5 1"/>
<polygon points="311.30,593.30 395.00,600.80 395.00,627.00 312.50,617.00" fill="#f7f7f7" stroke="#c4c4c4" stroke-width="0.6" stroke-linejoin="round" stroke-dasharray="2.5 1"/>
<polygon points="316.30,649.50 332.00,645.50 358.00,647.50 342.50,652.00" fill="#fbfbfb" stroke="#c8c8c8" stroke-width="0.6" stroke-linejoin="round" stroke-dasharray="2.5 1"/>
<polygon points="316.30,649.50 342.50,652.00 342.50,677.00 317.50,674.50" fill="#f7f7f7" stroke="#c4c4c4" stroke-width="0.6" stroke-linejoin="round" stroke-dasharray="2.5 1"/>
<polygon points="345.00,650.80 360.00,647.30 413.80,652.00 396.30,655.80" fill="#fbfbfb" stroke="#c8c8c8" stroke-width="0.6" stroke-linejoin="round" stroke-dasharray="2.5 1"/>
<polygon points="345.00,650.80 396.30,655.80 396.30,682.00 346.30,678.30" fill="#f7f7f7" stroke="#c4c4c4" stroke-width="0.6" stroke-linejoin="round" stroke-dasharray="2.5 1"/>
<polygon points="342.50,652.00 345.00,650.80 346.30,678.30 342.50,677.00" fill="#d9d9d9" />
<polygon points="395.00,601.00 413.80,597.00 413.80,619.50 395.00,624.50" fill="#d6d6d6" stroke="#b0b0b0" stroke-width="0.5" stroke-linejoin="round" />
<line x1="398.5" y1="601.6" x2="413.3" y2="598.5" stroke="#3f3f3f" stroke-width="1"/>
<line x1="398.5" y1="604.2" x2="413.3" y2="601.1" stroke="#3f3f3f" stroke-width="1"/>
<line x1="398.5" y1="606.7" x2="413.3" y2="603.6" stroke="#3f3f3f" stroke-width="1"/>
<line x1="398.5" y1="609.3" x2="413.3" y2="606.2" stroke="#3f3f3f" stroke-width="1"/>
<line x1="398.5" y1="611.9" x2="413.3" y2="608.8" stroke="#3f3f3f" stroke-width="1"/>
<line x1="398.5" y1="614.4" x2="413.3" y2="611.3" stroke="#3f3f3f" stroke-width="1"/>
<line x1="398.5" y1="617.0" x2="413.3" y2="613.9" stroke="#3f3f3f" stroke-width="1"/>
<line x1="398.5" y1="619.5" x2="413.3" y2="616.4" stroke="#3f3f3f" stroke-width="1"/>
<line x1="398.5" y1="622.1" x2="413.3" y2="619.0" stroke="#3f3f3f" stroke-width="1"/>
<polygon points="395.00,656.00 413.80,652.00 413.80,676.00 395.00,681.00" fill="#d6d6d6" stroke="#b0b0b0" stroke-width="0.5" stroke-linejoin="round" />
<line x1="398.5" y1="656.6" x2="413.3" y2="653.5" stroke="#3f3f3f" stroke-width="1"/>
<line x1="398.5" y1="659.4" x2="413.3" y2="656.2" stroke="#3f3f3f" stroke-width="1"/>
<line x1="398.5" y1="662.1" x2="413.3" y2="659.0" stroke="#3f3f3f" stroke-width="1"/>
<line x1="398.5" y1="664.9" x2="413.3" y2="661.8" stroke="#3f3f3f" stroke-width="1"/>
<line x1="398.5" y1="667.6" x2="413.3" y2="664.5" stroke="#3f3f3f" stroke-width="1"/>
<line x1="398.5" y1="670.4" x2="413.3" y2="667.2" stroke="#3f3f3f" stroke-width="1"/>
<line x1="398.5" y1="673.1" x2="413.3" y2="670.0" stroke="#3f3f3f" stroke-width="1"/>
<line x1="398.5" y1="675.9" x2="413.3" y2="672.8" stroke="#3f3f3f" stroke-width="1"/>
<line x1="398.5" y1="678.6" x2="413.3" y2="675.5" stroke="#3f3f3f" stroke-width="1"/>
<circle cx="318.0" cy="598.0" r="0.8" fill="#8c8c8c"/>
<circle cx="323.0" cy="606.0" r="0.8" fill="#8c8c8c"/>
<circle cx="352.0" cy="609.0" r="0.8" fill="#8c8c8c"/>
<circle cx="366.0" cy="604.0" r="0.8" fill="#8c8c8c"/>
<circle cx="371.0" cy="612.0" r="0.8" fill="#8c8c8c"/>
<circle cx="387.0" cy="606.0" r="0.8" fill="#8c8c8c"/>
<circle cx="387.0" cy="620.0" r="0.8" fill="#8c8c8c"/>
<circle cx="322.0" cy="664.0" r="0.8" fill="#8c8c8c"/>
<circle cx="338.0" cy="656.0" r="0.8" fill="#8c8c8c"/>
<circle cx="338.0" cy="668.0" r="0.8" fill="#8c8c8c"/>
<circle cx="350.0" cy="668.0" r="0.8" fill="#8c8c8c"/>
<circle cx="355.0" cy="661.0" r="0.8" fill="#8c8c8c"/>
<circle cx="387.0" cy="659.0" r="0.8" fill="#8c8c8c"/>
<circle cx="322.0" cy="672.0" r="0.8" fill="#8c8c8c"/>
<circle cx="316.0" cy="632.0" r="0.8" fill="#8c8c8c"/>
<polygon points="215.30,605.70 230.60,602.70 314.10,608.80 298.00,611.80" fill="#3b3b3b" />
<path fill-rule="evenodd" d="M215.3,605.7 L233,608 L298,611.8 L314.9,609.5 L315.2,705 L298,706.5 L262,704 L217.6,696.5 Z M239,612.6 L295.7,615.2 L295.7,649.4 L239.8,647 Z M239.8,656.3 L259,657.2 L259,692 L246,689 L239.8,684 Z M265.9,657.8 L296.5,658.8 L296.5,693 L265.9,694.5 Z" fill="#454545"/>
<polygon points="215.30,605.70 233.00,608.00 233.50,699.00 217.60,696.50" fill="#4c4c4c" />
<polygon points="233.00,608.00 239.00,612.60 239.80,690.00 233.50,699.00" fill="#5d5d5d" />
<rect x="218.4" y="628" width="7.6" height="4.5" rx="1.8" fill="#f4f4f4"/><rect x="218.4" y="673" width="8" height="4.7" rx="1.8" fill="#f4f4f4"/>
<polygon points="298.00,611.80 314.90,609.50 315.20,705.00 298.00,706.50" fill="#3d3d3d" />
<polygon points="295.70,615.20 298.00,611.80 298.00,706.50 296.50,693.00" fill="#555" />
<ellipse cx="303.8" cy="633" rx="4.2" ry="2.6" fill="#6e6e6e"/><ellipse cx="304.8" cy="688" rx="3.8" ry="2" fill="#676767"/>
<polygon points="239.80,647.00 295.70,649.40 296.50,658.80 239.80,656.30" fill="#4f4f4f" />
<polygon points="259.00,657.20 265.90,657.80 265.90,694.50 259.00,692.00" fill="#595959" />
<polygon points="233.50,690.00 246.00,689.00 259.00,692.00 265.90,694.50 296.50,693.00 298.00,706.50 262.00,704.00 233.50,699.00" fill="#3a3a3a" />
<polygon points="220.00,690.00 250.00,693.00 250.00,698.50 220.00,695.00" fill="#555" />
<circle cx="243.0" cy="614.5" r="3.6" fill="#3a3a3a"/>
<circle cx="243.4" cy="614.8" r="1.6" fill="#575757"/>
<circle cx="290.0" cy="617.0" r="3.8" fill="#3a3a3a"/>
<circle cx="290.4" cy="617.3" r="1.7" fill="#575757"/>
<circle cx="243.0" cy="644.0" r="3.2" fill="#3a3a3a"/>
<circle cx="243.4" cy="644.3" r="1.4" fill="#575757"/>
<circle cx="265.0" cy="646.0" r="4.2" fill="#3a3a3a"/>
<circle cx="265.4" cy="646.3" r="1.9" fill="#575757"/>
<circle cx="243.0" cy="660.0" r="3.6" fill="#3a3a3a"/>
<circle cx="243.4" cy="660.3" r="1.6" fill="#575757"/>
<circle cx="281.0" cy="661.5" r="4.2" fill="#3a3a3a"/>
<circle cx="281.4" cy="661.8" r="1.9" fill="#575757"/>
<circle cx="243.0" cy="686.0" r="4.5" fill="#3a3a3a"/>
<circle cx="243.4" cy="686.3" r="2.0" fill="#575757"/>
<circle cx="285.0" cy="691.0" r="4.2" fill="#3a3a3a"/>
<circle cx="285.4" cy="691.3" r="1.9" fill="#575757"/>
<circle cx="234.5" cy="642.0" r="3.0" fill="#3a3a3a"/>
<circle cx="234.9" cy="642.3" r="1.4" fill="#575757"/>
<rect x="203.0" y="609.7" width="22.3" height="5.2" rx="1" fill="#f6f6f6" stroke="#a5a5a5" stroke-width="0.6"/>
<rect x="213.0" y="609.7" width="11.2" height="5.2" fill="#d2d2d2"/>
<rect x="204.6" y="698.5" width="21.4" height="5.2" rx="1" fill="#f6f6f6" stroke="#a5a5a5" stroke-width="0.6"/>
<rect x="214.2" y="698.5" width="10.7" height="5.2" fill="#d2d2d2"/>
<rect x="264.3" y="614.3" width="20.7" height="5.2" rx="1" fill="#f6f6f6" stroke="#a5a5a5" stroke-width="0.6"/>
<rect x="273.6" y="614.3" width="10.3" height="5.2" fill="#d2d2d2"/>
<rect x="265.1" y="703.1" width="20.7" height="5.2" rx="1" fill="#f6f6f6" stroke="#a5a5a5" stroke-width="0.6"/>
<rect x="274.4" y="703.1" width="10.3" height="5.2" fill="#d2d2d2"/>
<path d="M264.8,625 v9.5 M261,629 h9 M267.5,632 h5.5" stroke="#b9bacb" stroke-width="1.6" fill="none"/>
</g>
</g>
<g id="p_labels">
<rect x="716.2" y="64.9" width="315.5" height="284.8" rx="1" fill="none" stroke="#1c1c1c" stroke-width="2.1"/>
<rect x="70.1" y="555.9" width="367" height="190.9" fill="none" stroke="#1c1c1c" stroke-width="1.9"/>
<line x1="674.50" y1="158.75" x2="569.50" y2="193.75" stroke="#111" stroke-width="1.00"/>
<line x1="675.25" y1="202.50" x2="612.00" y2="275.00" stroke="#111" stroke-width="1.00"/><polygon points="612.00,275.00 614.08,270.18 616.49,272.28" fill="#111"/>
<line x1="674.50" y1="320.00" x2="595.75" y2="392.50" stroke="#111" stroke-width="1.50"/>
<line x1="682.00" y1="352.50" x2="638.25" y2="397.50" stroke="#111" stroke-width="1.50"/><polygon points="638.25,397.50 641.76,390.45 645.20,393.80" fill="#111"/>
<line x1="813.75" y1="422.50" x2="780.00" y2="466.25" stroke="#111" stroke-width="1.50"/><polygon points="780.00,466.25 782.68,458.85 786.48,461.78" fill="#111"/>
<line x1="908.00" y1="375.00" x2="860.00" y2="433.75" stroke="#111" stroke-width="1.50"/><polygon points="860.00,433.75 862.89,426.42 866.60,429.46" fill="#111"/>
<line x1="924.25" y1="405.50" x2="855.00" y2="472.50" stroke="#111" stroke-width="1.50"/>
<line x1="951.25" y1="443.75" x2="897.50" y2="463.75" stroke="#111" stroke-width="1.50"/><polygon points="897.50,463.75 903.69,458.89 905.37,463.38" fill="#111"/>
<line x1="950.00" y1="488.75" x2="910.00" y2="474.50" stroke="#111" stroke-width="1.50"/><polygon points="910.00,474.50 917.87,474.76 916.26,479.28" fill="#111"/>
<line x1="947.50" y1="512.50" x2="896.25" y2="488.75" stroke="#111" stroke-width="1.50"/><polygon points="896.25,488.75 904.06,489.73 902.05,494.08" fill="#111"/>
<line x1="838.75" y1="609.50" x2="793.00" y2="522.50" stroke="#111" stroke-width="1.50"/><polygon points="793.00,522.50 798.61,528.02 794.37,530.26" fill="#111"/>
<line x1="838.75" y1="609.50" x2="802.50" y2="530.00" stroke="#111" stroke-width="1.50"/><polygon points="802.50,530.00 807.80,535.83 803.43,537.82" fill="#111"/>
<line x1="838.75" y1="609.50" x2="817.00" y2="528.75" stroke="#111" stroke-width="1.50"/><polygon points="817.00,528.75 821.27,535.37 816.63,536.62" fill="#111"/>
<line x1="838.75" y1="609.50" x2="893.75" y2="528.75" stroke="#111" stroke-width="1.50"/><polygon points="893.75,528.75 891.51,536.30 887.54,533.60" fill="#111"/>
<line x1="702.50" y1="491.75" x2="623.75" y2="475.00" stroke="#111" stroke-width="1.50"/><polygon points="623.75,475.00 631.59,474.21 630.59,478.91" fill="#111"/>
<line x1="602.50" y1="516.25" x2="560.00" y2="496.25" stroke="#111" stroke-width="1.50"/><polygon points="560.00,496.25 567.81,497.27 565.76,501.62" fill="#111"/>
<line x1="632.50" y1="552.50" x2="568.75" y2="533.00" stroke="#111" stroke-width="1.50"/><polygon points="568.75,533.00 576.62,532.90 575.22,537.49" fill="#111"/>
<line x1="708.00" y1="582.50" x2="648.75" y2="593.75" stroke="#111" stroke-width="1.50"/><polygon points="648.75,593.75 655.67,589.99 656.57,594.71" fill="#111"/>
<line x1="714.50" y1="618.00" x2="621.25" y2="603.25" stroke="#111" stroke-width="1.50"/><polygon points="621.25,603.25 629.03,602.05 628.28,606.79" fill="#111"/>
<line x1="723.00" y1="650.00" x2="643.75" y2="642.00" stroke="#111" stroke-width="1.50"/><polygon points="643.75,642.00 651.45,640.37 650.97,645.14" fill="#111"/>
<line x1="708.75" y1="705.00" x2="592.50" y2="647.50" stroke="#111" stroke-width="1.50"/><polygon points="592.50,647.50 600.29,648.67 598.16,652.98" fill="#111"/>
<line x1="535.00" y1="600.00" x2="460.00" y2="495.00" stroke="#111" stroke-width="1.50"/>
<line x1="496.25" y1="601.25" x2="432.50" y2="492.50" stroke="#111" stroke-width="1.50"/>
<line x1="456.20" y1="608.60" x2="395.00" y2="506.25" stroke="#111" stroke-width="1.50"/>
<line x1="308.75" y1="518.25" x2="360.00" y2="492.50" stroke="#111" stroke-width="1.50"/>
<line x1="263.75" y1="471.25" x2="321.75" y2="438.75" stroke="#111" stroke-width="1.50"/><polygon points="321.75,438.75 316.38,444.51 314.03,440.32" fill="#111"/>
<line x1="247.50" y1="440.75" x2="285.00" y2="418.75" stroke="#111" stroke-width="1.50"/><polygon points="285.00,418.75 279.75,424.62 277.32,420.48" fill="#111"/>
<line x1="336.25" y1="348.75" x2="417.50" y2="446.00" stroke="#111" stroke-width="1.50"/><polygon points="417.50,446.00 410.85,441.78 414.53,438.71" fill="#111"/>
<line x1="391.25" y1="308.00" x2="419.50" y2="425.00" stroke="#111" stroke-width="1.50"/><polygon points="419.50,425.00 415.41,418.27 420.07,417.15" fill="#111"/>
<line x1="498.25" y1="377.50" x2="527.00" y2="405.00" stroke="#111" stroke-width="1.50"/><polygon points="527.00,405.00 519.92,401.55 523.24,398.08" fill="#111"/>
<line x1="475.75" y1="395.75" x2="519.50" y2="417.50" stroke="#111" stroke-width="1.50"/><polygon points="519.50,417.50 511.72,416.31 513.85,412.01" fill="#111"/>
<line x1="474.50" y1="418.75" x2="515.75" y2="430.50" stroke="#111" stroke-width="1.50"/><polygon points="515.75,430.50 507.88,430.75 509.19,426.14" fill="#111"/>
<line x1="730.00" y1="395.00" x2="650.00" y2="442.00" stroke="#111" stroke-width="1.50"/><polygon points="650.00,442.00 655.25,436.13 657.68,440.27" fill="#111"/>
<line x1="523.25" y1="498.75" x2="518.75" y2="541.25" stroke="#111" stroke-width="1.50"/><polygon points="518.75,541.25 517.15,533.54 521.93,534.04" fill="#111"/>
<line x1="799.50" y1="133.75" x2="761.00" y2="82.00" stroke="#111" stroke-width="1.50"/><polygon points="761.00,82.00 767.40,86.58 763.55,89.45" fill="#111"/>
<line x1="782.50" y1="166.00" x2="762.50" y2="127.50" stroke="#111" stroke-width="1.50"/><polygon points="762.50,127.50 768.09,133.05 763.83,135.26" fill="#111"/>
<line x1="761.00" y1="291.00" x2="803.75" y2="208.00" stroke="#111" stroke-width="1.50"/><polygon points="803.75,208.00 802.45,215.77 798.18,213.57" fill="#111"/>
<line x1="819.50" y1="276.00" x2="802.00" y2="317.50" stroke="#111" stroke-width="1.50"/><polygon points="802.00,317.50 802.70,309.66 807.13,311.52" fill="#111"/>
<line x1="896.00" y1="325.00" x2="915.00" y2="302.50" stroke="#111" stroke-width="1.50"/><polygon points="915.00,302.50 911.99,309.78 908.33,306.68" fill="#111"/>
<line x1="947.75" y1="317.50" x2="918.50" y2="273.75" stroke="#111" stroke-width="1.50"/><polygon points="918.50,273.75 924.66,278.65 920.67,281.32" fill="#111"/>
<line x1="949.00" y1="222.50" x2="911.00" y2="248.00" stroke="#111" stroke-width="1.50"/><polygon points="911.00,248.00 915.89,241.83 918.57,245.81" fill="#111"/>
<line x1="960.00" y1="156.00" x2="915.00" y2="204.00" stroke="#111" stroke-width="1.50"/><polygon points="915.00,204.00 918.38,196.89 921.88,200.17" fill="#111"/>
<line x1="985.25" y1="311.25" x2="953.50" y2="246.25" stroke="#111" stroke-width="1.50"/><polygon points="953.50,246.25 958.95,251.94 954.64,254.04" fill="#111"/>
<line x1="310.00" y1="575.75" x2="376.25" y2="614.50" stroke="#111" stroke-width="1.50"/><polygon points="376.25,614.50 368.56,612.79 370.99,608.64" fill="#111"/>
<line x1="395.00" y1="702.00" x2="378.75" y2="669.50" stroke="#111" stroke-width="1.50"/><polygon points="378.75,669.50 384.25,675.13 379.96,677.28" fill="#111"/>
<line x1="347.50" y1="704.50" x2="328.75" y2="665.75" stroke="#111" stroke-width="1.50"/><polygon points="328.75,665.75 334.18,671.46 329.86,673.55" fill="#111"/>
<line x1="317.50" y1="719.50" x2="303.75" y2="693.25" stroke="#111" stroke-width="1.50"/><polygon points="303.75,693.25 309.36,698.78 305.10,701.01" fill="#111"/>
<line x1="248.75" y1="577.00" x2="271.25" y2="617.50" stroke="#111" stroke-width="1.50"/><polygon points="271.25,617.50 265.51,612.11 269.71,609.78" fill="#111"/>
<line x1="196.25" y1="579.50" x2="192.00" y2="605.75" stroke="#111" stroke-width="1.50"/><polygon points="192.00,605.75 190.83,597.96 195.57,598.73" fill="#111"/>
<line x1="163.00" y1="595.75" x2="191.25" y2="648.25" stroke="#111" stroke-width="1.50"/><polygon points="191.25,648.25 185.58,642.78 189.81,640.51" fill="#111"/>
<line x1="133.75" y1="630.75" x2="170.00" y2="654.50" stroke="#111" stroke-width="1.50"/><polygon points="170.00,654.50 162.41,652.40 165.04,648.38" fill="#111"/>
<line x1="222.50" y1="720.00" x2="137.50" y2="710.00" stroke="#111" stroke-width="1.50"/><polygon points="137.50,710.00 145.23,708.49 144.67,713.26" fill="#111"/>
<line x1="275.50" y1="724.50" x2="265.50" y2="632.00" stroke="#111" stroke-width="1.50"/><polygon points="265.50,632.00 268.69,639.20 263.92,639.71" fill="#111"/>
<rect x="966.50" y="82.00" width="33.80" height="31.80" fill="#fff" stroke="#1a1a1a" stroke-width="1.6"/>
<text transform="translate(973.92,109.55) scale(0.765,1)" font-size="35.04" fill="#111" stroke="#111" stroke-width="0.90" stroke-linejoin="round">A</text>
<rect x="730.60" y="372.90" width="34.30" height="31.70" fill="#fff" stroke="#1a1a1a" stroke-width="1.6"/>
<text transform="translate(739.92,400.35) scale(0.746,1)" font-size="35.33" fill="#111" stroke="#111" stroke-width="0.90" stroke-linejoin="round">A</text>
<rect x="506.50" y="462.00" width="33.70" height="31.40" fill="none" stroke="#1a1a1a" stroke-width="1.6"/>
<text transform="translate(514.11,488.85) scale(0.830,1)" font-size="33.77" fill="#111" stroke="#111" stroke-width="0.90" stroke-linejoin="round">B</text>
<rect x="90.30" y="564.90" width="33.80" height="31.80" fill="#fff" stroke="#1a1a1a" stroke-width="1.6"/>
<text transform="translate(97.60,592.45) scale(0.844,1)" font-size="34.78" fill="#111" stroke="#111" stroke-width="0.90" stroke-linejoin="round">B</text>
<text transform="translate(675.02,167.75) scale(0.692,1)" font-size="35.29" fill="#111" stroke="#111" stroke-width="0.30" stroke-linejoin="round">1</text>
<text transform="translate(675.01,214.00) scale(1.116,1)" font-size="33.00" fill="#111" stroke="#111" stroke-width="0.30" stroke-linejoin="round">2</text>
<text transform="translate(679.17,323.67) scale(1.095,1)" font-size="32.54" fill="#111" stroke="#111" stroke-width="0.30" stroke-linejoin="round">3</text>
<text transform="translate(683.39,365.25) scale(1.091,1)" font-size="35.29" fill="#111" stroke="#111" stroke-width="0.30" stroke-linejoin="round">4</text>
<text transform="translate(810.83,426.15) scale(1.089,1)" font-size="34.79" fill="#111" stroke="#111" stroke-width="0.30" stroke-linejoin="round">5</text>
<text transform="translate(906.78,384.91) scale(1.062,1)" font-size="34.30" fill="#111" stroke="#111" stroke-width="0.30" stroke-linejoin="round">6</text>
<text transform="translate(937.35,410.25) scale(0.971,1)" font-size="37.10" fill="#111" stroke="#111" stroke-width="0.30" stroke-linejoin="round">7</text>
<text transform="translate(959.38,453.66) scale(1.117,1)" font-size="34.30" fill="#111" stroke="#111" stroke-width="0.30" stroke-linejoin="round">8</text>
<text transform="translate(963.66,501.16) scale(1.097,1)" font-size="34.30" fill="#111" stroke="#111" stroke-width="0.30" stroke-linejoin="round">9</text>
<text transform="translate(946.03,534.91) scale(0.999,1)" font-size="34.30" fill="#111" stroke="#111" stroke-width="0.30" stroke-linejoin="round">10</text>
<text transform="translate(838.70,643.25) scale(0.927,1)" font-size="34.49" fill="#111" stroke="#111" stroke-width="0.30" stroke-linejoin="round">11</text>
<text transform="translate(709.74,501.50) scale(1.000,1)" font-size="34.79" fill="#111" stroke="#111" stroke-width="0.30" stroke-linejoin="round">12</text>
<text transform="translate(597.17,526.16) scale(1.040,1)" font-size="34.30" fill="#111" stroke="#111" stroke-width="0.30" stroke-linejoin="round">13</text>
<text transform="translate(633.46,561.50) scale(0.996,1)" font-size="35.29" fill="#111" stroke="#111" stroke-width="0.30" stroke-linejoin="round">14</text>
<text transform="translate(720.98,587.40) scale(1.004,1)" font-size="34.79" fill="#111" stroke="#111" stroke-width="0.30" stroke-linejoin="round">15</text>
<text transform="translate(718.91,627.41) scale(1.048,1)" font-size="34.30" fill="#111" stroke="#111" stroke-width="0.30" stroke-linejoin="round">16</text>
<text transform="translate(729.20,662.25) scale(0.970,1)" font-size="36.38" fill="#111" stroke="#111" stroke-width="0.30" stroke-linejoin="round">17</text>
<text transform="translate(712.27,720.40) scale(0.983,1)" font-size="35.00" fill="#111" stroke="#111" stroke-width="0.30" stroke-linejoin="round">18</text>
<text transform="translate(539.66,621.14) scale(0.995,1)" font-size="36.06" fill="#111" stroke="#111" stroke-width="0.30" stroke-linejoin="round">19</text>
<text transform="translate(495.56,629.89) scale(0.994,1)" font-size="36.06" fill="#111" stroke="#111" stroke-width="0.30" stroke-linejoin="round">20</text>
<text transform="translate(454.54,637.75) scale(0.899,1)" font-size="34.79" fill="#111" stroke="#111" stroke-width="0.30" stroke-linejoin="round">21</text>
<text transform="translate(263.09,532.75) scale(0.961,1)" font-size="36.57" fill="#111" stroke="#111" stroke-width="0.30" stroke-linejoin="round">22</text>
<text transform="translate(220.55,483.66) scale(1.051,1)" font-size="34.30" fill="#111" stroke="#111" stroke-width="0.30" stroke-linejoin="round">23</text>
<text transform="translate(199.26,446.50) scale(1.055,1)" font-size="34.79" fill="#111" stroke="#111" stroke-width="0.30" stroke-linejoin="round">24</text>
<text transform="translate(295.55,352.41) scale(1.051,1)" font-size="34.30" fill="#111" stroke="#111" stroke-width="0.30" stroke-linejoin="round">25</text>
<text transform="translate(368.05,296.16) scale(1.051,1)" font-size="34.30" fill="#111" stroke="#111" stroke-width="0.30" stroke-linejoin="round">26</text>
<text transform="translate(477.59,377.75) scale(1.010,1)" font-size="34.79" fill="#111" stroke="#111" stroke-width="0.30" stroke-linejoin="round">27</text>
<text transform="translate(432.09,396.16) scale(1.029,1)" font-size="34.30" fill="#111" stroke="#111" stroke-width="0.30" stroke-linejoin="round">28</text>
<text transform="translate(435.88,433.29) scale(0.989,1)" font-size="35.77" fill="#111" stroke="#111" stroke-width="0.30" stroke-linejoin="round">29</text>
<text transform="translate(807.70,146.72) scale(0.812,1)" font-size="17.32" fill="#111" stroke="#111" stroke-width="0.55" stroke-linejoin="round">A1</text>
<text transform="translate(786.20,178.72) scale(0.887,1)" font-size="17.79" fill="#111" stroke="#111" stroke-width="0.55" stroke-linejoin="round">A2</text>
<text transform="translate(750.20,305.06) scale(0.882,1)" font-size="16.83" fill="#111" stroke="#111" stroke-width="0.55" stroke-linejoin="round">A3</text>
<text transform="translate(824.70,278.48) scale(0.929,1)" font-size="16.23" fill="#111" stroke="#111" stroke-width="0.55" stroke-linejoin="round">A4</text>
<text transform="translate(885.70,337.06) scale(0.902,1)" font-size="16.00" fill="#111" stroke="#111" stroke-width="0.55" stroke-linejoin="round">A5</text>
<text transform="translate(950.20,333.31) scale(0.974,1)" font-size="16.13" fill="#111" stroke="#111" stroke-width="0.55" stroke-linejoin="round">A6</text>
<text transform="translate(951.30,227.82) scale(0.934,1)" font-size="16.88" fill="#111" stroke="#111" stroke-width="0.55" stroke-linejoin="round">A7</text>
<text transform="translate(964.70,161.26) scale(0.933,1)" font-size="16.55" fill="#111" stroke="#111" stroke-width="0.55" stroke-linejoin="round">A8</text>
<text transform="translate(986.70,324.56) scale(0.861,1)" font-size="16.83" fill="#111" stroke="#111" stroke-width="0.55" stroke-linejoin="round">A9</text>
<text transform="translate(294.22,575.48) scale(0.762,1)" font-size="17.32" fill="#111" stroke="#111" stroke-width="0.55" stroke-linejoin="round">B1</text>
<text transform="translate(394.04,717.98) scale(0.907,1)" font-size="17.07" fill="#111" stroke="#111" stroke-width="0.55" stroke-linejoin="round">B2</text>
<text transform="translate(346.99,719.06) scale(0.956,1)" font-size="16.83" fill="#111" stroke="#111" stroke-width="0.55" stroke-linejoin="round">B3</text>
<text transform="translate(318.49,726.73) scale(0.930,1)" font-size="17.32" fill="#111" stroke="#111" stroke-width="0.55" stroke-linejoin="round">B4</text>
<text transform="translate(236.51,574.55) scale(0.929,1)" font-size="17.07" fill="#111" stroke="#111" stroke-width="0.55" stroke-linejoin="round">B5</text>
<text transform="translate(192.74,575.31) scale(0.998,1)" font-size="16.13" fill="#111" stroke="#111" stroke-width="0.55" stroke-linejoin="round">B6</text>
<text transform="translate(153.50,593.73) scale(0.960,1)" font-size="16.59" fill="#111" stroke="#111" stroke-width="0.55" stroke-linejoin="round">B7</text>
<text transform="translate(116.01,633.56) scale(0.984,1)" font-size="16.13" fill="#111" stroke="#111" stroke-width="0.55" stroke-linejoin="round">B8</text>
<text transform="translate(226.45,725.81) scale(1.009,1)" font-size="16.48" fill="#111" stroke="#111" stroke-width="0.55" stroke-linejoin="round">B9</text>
<text transform="translate(276.42,731.56) scale(1.009,1)" font-size="16.83" fill="#111" stroke="#111" stroke-width="0.55" stroke-linejoin="round">B10</text>
<text transform="translate(638.68,526.31) scale(1.318,1)" font-size="10.43" fill="#222">(B3)</text>
<text transform="translate(674.19,560.75) scale(1.258,1)" font-size="10.70" fill="#222">(B2)</text>
</g>
</svg>
</body></html>
